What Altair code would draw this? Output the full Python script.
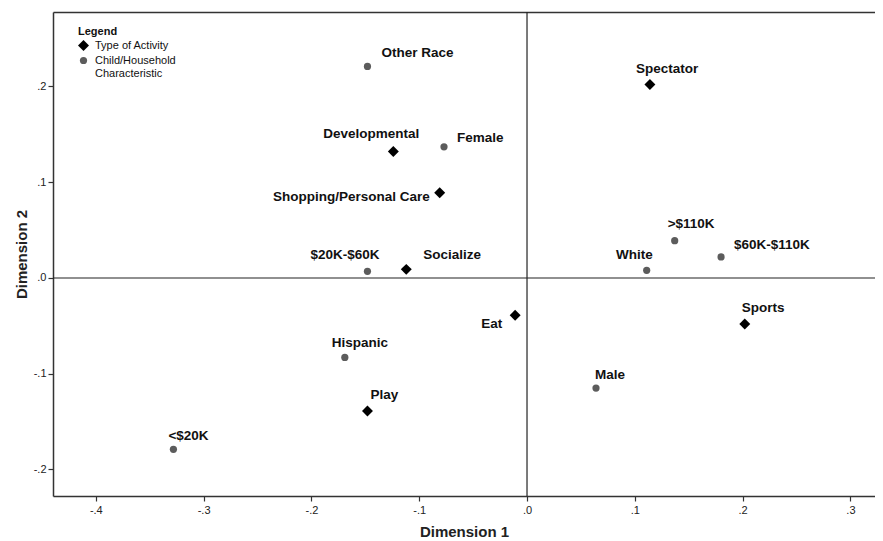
import altair as alt
import pandas as pd

# ---- data ----
activity_names = ["Spectator", "Developmental", "Shopping/Personal Care", "Socialize",
                  "Eat", "Sports", "Play"]
activity_dim1 = [0.114, -0.124, -0.081, -0.112, -0.011, 0.202, -0.148]
activity_dim2 = [0.202, 0.132, 0.089, 0.009, -0.039, -0.048, -0.139]

char_names = ["Other Race", "Female", "$20K-$60K", "Hispanic", "<$20K", "Male",
              "White", ">$110K", "$60K-$110K"]
char_dim1 = [-0.148, -0.077, -0.148, -0.169, -0.328, 0.064, 0.111, 0.137, 0.180]
char_dim2 = [0.221, 0.137, 0.007, -0.083, -0.179, -0.115, 0.008, 0.039, 0.022]

group_names = ["Type of Activity", "Child/Household Characteristic"]
x_ticks = [-0.4, -0.3, -0.2, -0.1, 0.0, 0.1, 0.2, 0.3]
y_ticks = [-0.2, -0.1, 0.0, 0.1, 0.2]
zero_line = [0.0]

# label placement (style): align, dx, dy in pixels
label_style = {
    "Spectator": ("left", -14, -16),
    "Developmental": ("right", 26, -18),
    "Shopping/Personal Care": ("right", -10, 4),
    "Socialize": ("left", 17, -14),
    "Eat": ("right", -13, 9),
    "Sports": ("left", -3, -16),
    "Play": ("left", 3, -16),
    "Other Race": ("left", 14, -13),
    "Female": ("left", 13, -9),
    "$20K-$60K": ("right", 12, -16),
    "Hispanic": ("left", -13, -14),
    "<$20K": ("left", -5, -13),
    "Male": ("left", -1, -13),
    "White": ("right", 6, -15),
    ">$110K": ("left", -7, -17),
    "$60K-$110K": ("left", 13, -12),
}

df = pd.DataFrame({
    "name": activity_names + char_names,
    "dim1": activity_dim1 + char_dim1,
    "dim2": activity_dim2 + char_dim2,
    "group": [group_names[0]] * len(activity_names) + [group_names[1]] * len(char_names),
})

FONT = "Liberation Sans"
xscale = alt.Scale(domain=[-0.4397, 0.3228], nice=False, zero=False)
yscale = alt.Scale(domain=[-0.2277, 0.2778], nice=False, zero=False)
label_expr = "replace(replace(format(datum.value, '.1f'), '0.', '.'), '\u2212', '-')"

xaxis = alt.Axis(values=x_ticks, labelExpr=label_expr, title="Dimension 1", grid=False,
                 labelPadding=3, titlePadding=9)
yaxis = alt.Axis(values=y_ticks, labelExpr=label_expr, title="Dimension 2", grid=False,
                 labelPadding=2, titlePadding=4)

legend = alt.Legend(
    title="Legend", orient="none", legendX=25, legendY=14, padding=0,
    titleFontSize=11, titleFontWeight="bold", titleFont=FONT, titleColor="#111",
    titlePadding=3, labelFontSize=11, labelFont=FONT, labelColor="#111",
    labelOffset=6, rowPadding=3, symbolStrokeWidth=0,
    labelExpr="datum.label == 'Child/Household Characteristic' ? ['Child/Household', 'Characteristic'] : datum.label",
)

points = alt.Chart(df).mark_point(filled=True, opacity=1, strokeWidth=0).encode(
    x=alt.X("dim1:Q", scale=xscale, axis=xaxis),
    y=alt.Y("dim2:Q", scale=yscale, axis=yaxis),
    shape=alt.Shape("group:N", scale=alt.Scale(domain=group_names, range=["diamond", "circle"]), legend=legend),
    color=alt.Color("group:N", scale=alt.Scale(domain=group_names, range=["#000000", "#5c5c5c"]), legend=legend),
    size=alt.Size("group:N", scale=alt.Scale(domain=group_names, range=[120, 52]), legend=legend),
)

vzero = alt.Chart(pd.DataFrame({"dim1": zero_line})).mark_rule(color="#222", strokeWidth=1.2).encode(
    x=alt.X("dim1:Q", scale=xscale,
            axis=alt.Axis(orient="top", labels=False, ticks=False, title=None, grid=False, domain=True))
)
hzero = alt.Chart(pd.DataFrame({"dim2": zero_line})).mark_rule(color="#222", strokeWidth=1.2).encode(
    y=alt.Y("dim2:Q", scale=yscale, axis=yaxis)
)

label_layers = []
for nm, (al, dx, dy) in label_style.items():
    label_layers.append(
        alt.Chart(df).transform_filter(alt.FieldEqualPredicate(field="name", equal=nm))
        .mark_text(align=al, baseline="middle", dx=dx, dy=dy, font=FONT, fontSize=13.5,
                   fontWeight="bold", color="#111")
        .encode(x=alt.X("dim1:Q", scale=xscale, axis=None),
                y=alt.Y("dim2:Q", scale=yscale, axis=yaxis),
                text="name:N")
    )

chart = alt.layer(vzero, hzero, points, *label_layers).resolve_axis(x="independent").properties(
    width=822, height=484,
    autosize=alt.AutoSizeParams(type="none"),
    padding={"left": 45, "top": 4, "right": 0, "bottom": 45},
    background="white",
).configure_view(stroke=None).configure_axis(
    domainColor="#333", domainWidth=1.5, tickColor="#333", tickSize=5, tickWidth=1.2,
    labelFont=FONT, labelFontSize=11, labelColor="#222",
    titleFont=FONT, titleFontSize=15, titleFontWeight="bold", titleColor="#222",
)

chart.save("out.html", embed_options={"renderer": "svg", "actions": False})
